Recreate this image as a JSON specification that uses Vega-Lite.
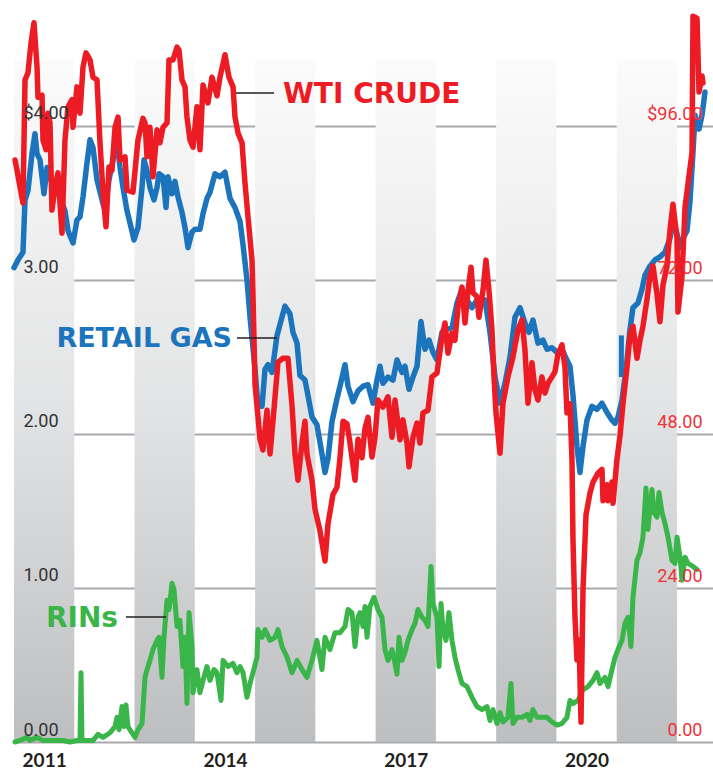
{
  "$schema": "https://vega.github.io/schema/vega-lite/v6.json",
  "width": 699,
  "height": 742,
  "autosize": {"type": "none"},
  "padding": {"left": 14, "top": 0, "right": 0, "bottom": 28},
  "background": "#ffffff",
  "config": {"view": {"stroke": null}},
  "resolve": {"scale": {"y": "independent"}},
  "datasets": {
    "bands": [
      {"start": 2011, "end": 2012}, {"start": 2013, "end": 2014}, {"start": 2015, "end": 2016},
      {"start": 2017, "end": 2018}, {"start": 2019, "end": 2020}, {"start": 2021, "end": 2022}
    ],
    "crude": [
      {"t":2011.017,"v":90.7},{"t":2011.05,"v":89.1},{"t":2011.1,"v":86.5},{"t":2011.149,"v":84.0},{"t":2011.183,"v":103.2},{"t":2011.232,"v":104.3},{"t":2011.282,"v":108.9},{"t":2011.332,"v":112.1},{"t":2011.382,"v":105.2},{"t":2011.398,"v":100.5},{"t":2011.465,"v":100.8},{"t":2011.481,"v":93.8},{"t":2011.531,"v":92.3},{"t":2011.564,"v":98.0},{"t":2011.597,"v":96.5},{"t":2011.63,"v":82.9},{"t":2011.68,"v":86.5},{"t":2011.73,"v":88.7},{"t":2011.796,"v":79.3},{"t":2011.846,"v":93.8},{"t":2011.896,"v":99.0},{"t":2011.962,"v":100.1},{"t":2011.979,"v":95.8},
      {"t":2012.045,"v":102.1},{"t":2012.095,"v":98.0},{"t":2012.145,"v":105.2},{"t":2012.195,"v":107.4},{"t":2012.261,"v":106.3},{"t":2012.311,"v":103.6},{"t":2012.377,"v":103.2},{"t":2012.427,"v":93.4},{"t":2012.477,"v":85.6},{"t":2012.526,"v":80.3},{"t":2012.576,"v":89.6},{"t":2012.626,"v":89.1},{"t":2012.676,"v":95.8},{"t":2012.726,"v":97.4},{"t":2012.759,"v":90.7},{"t":2012.842,"v":91.2},{"t":2012.875,"v":86.0},{"t":2012.974,"v":85.7},
      {"t":2013.057,"v":93.8},{"t":2013.14,"v":97.2},{"t":2013.174,"v":96.5},{"t":2013.207,"v":91.2},{"t":2013.256,"v":95.8},{"t":2013.306,"v":88.1},{"t":2013.373,"v":95.4},{"t":2013.422,"v":93.4},{"t":2013.472,"v":95.8},{"t":2013.539,"v":96.5},{"t":2013.572,"v":106.3},{"t":2013.638,"v":106.3},{"t":2013.705,"v":108.3},{"t":2013.738,"v":107.8},{"t":2013.787,"v":103.2},{"t":2013.837,"v":102.1},{"t":2013.87,"v":97.4},{"t":2013.92,"v":93.8},{"t":2013.97,"v":92.7},
      {"t":2014.036,"v":99.0},{"t":2014.086,"v":92.3},{"t":2014.136,"v":102.4},{"t":2014.219,"v":99.6},{"t":2014.285,"v":103.6},{"t":2014.368,"v":100.7},{"t":2014.418,"v":103.6},{"t":2014.501,"v":107.1},{"t":2014.567,"v":103.6},{"t":2014.634,"v":102.1},{"t":2014.667,"v":97.4},{"t":2014.717,"v":94.9},{"t":2014.783,"v":93.4},{"t":2014.833,"v":87.1},{"t":2014.883,"v":81.8},{"t":2014.949,"v":75.1},{"t":2014.965,"v":69.7},{"t":2014.999,"v":55.8},
      {"t":2015.082,"v":47.2},{"t":2015.131,"v":45.5},{"t":2015.198,"v":51.7},{"t":2015.248,"v":44.9},{"t":2015.297,"v":50.0},{"t":2015.38,"v":59.2},{"t":2015.463,"v":59.8},{"t":2015.546,"v":59.8},{"t":2015.613,"v":52.4},{"t":2015.662,"v":44.9},{"t":2015.712,"v":40.8},{"t":2015.779,"v":46.6},{"t":2015.828,"v":50.0},{"t":2015.861,"v":44.9},{"t":2015.944,"v":40.8},{"t":2015.994,"v":36.3},
      {"t":2016.077,"v":32.9},{"t":2016.16,"v":28.2},{"t":2016.21,"v":34.0},{"t":2016.293,"v":38.6},{"t":2016.359,"v":39.7},{"t":2016.409,"v":44.3},{"t":2016.459,"v":50.0},{"t":2016.525,"v":49.6},{"t":2016.575,"v":46.6},{"t":2016.658,"v":40.8},{"t":2016.708,"v":47.2},{"t":2016.774,"v":44.3},{"t":2016.824,"v":48.9},{"t":2016.874,"v":50.6},{"t":2016.94,"v":44.4},{"t":2016.99,"v":47.5},
      {"t":2017.039,"v":53.3},{"t":2017.122,"v":52.2},{"t":2017.205,"v":53.8},{"t":2017.272,"v":47.5},{"t":2017.322,"v":53.3},{"t":2017.405,"v":47.1},{"t":2017.454,"v":50.2},{"t":2017.521,"v":46.6},{"t":2017.554,"v":42.9},{"t":2017.62,"v":47.5},{"t":2017.687,"v":49.7},{"t":2017.736,"v":46.6},{"t":2017.786,"v":51.3},{"t":2017.869,"v":51.7},{"t":2017.935,"v":56.9},
      {"t":2018.018,"v":57.5},{"t":2018.101,"v":63.1},{"t":2018.151,"v":65.3},{"t":2018.201,"v":60.6},{"t":2018.267,"v":63.7},{"t":2018.317,"v":62.6},{"t":2018.367,"v":67.8},{"t":2018.433,"v":70.9},{"t":2018.483,"v":65.3},{"t":2018.533,"v":70.4},{"t":2018.583,"v":74.0},{"t":2018.616,"v":70.0},{"t":2018.682,"v":69.4},{"t":2018.715,"v":66.2},{"t":2018.782,"v":70.4},{"t":2018.831,"v":75.1},{"t":2018.881,"v":70.4},{"t":2018.931,"v":64.2},{"t":2018.964,"v":56.9},{"t":2018.997,"v":51.3},
      {"t":2019.064,"v":45.0},{"t":2019.113,"v":52.8},{"t":2019.196,"v":56.9},{"t":2019.279,"v":60.0},{"t":2019.362,"v":64.2},{"t":2019.429,"v":65.8},{"t":2019.478,"v":61.1},{"t":2019.528,"v":52.8},{"t":2019.595,"v":59.1},{"t":2019.644,"v":54.9},{"t":2019.694,"v":53.3},{"t":2019.76,"v":56.9},{"t":2019.81,"v":54.4},{"t":2019.86,"v":55.9},{"t":2019.926,"v":56.9},{"t":2019.976,"v":57.7},
      {"t":2020.026,"v":60.5},{"t":2020.092,"v":61.9},{"t":2020.142,"v":58.4},{"t":2020.175,"v":51.3},{"t":2020.225,"v":52.7},{"t":2020.258,"v":44.1},{"t":2020.275,"v":31.5},{"t":2020.308,"v":19.5},{"t":2020.341,"v":12.8},{"t":2020.375,"v":15.9},{"t":2020.408,"v":3.1},{"t":2020.441,"v":23.7},{"t":2020.491,"v":35.4},{"t":2020.557,"v":38.8},{"t":2020.607,"v":40.5},{"t":2020.69,"v":41.9},{"t":2020.756,"v":42.5},{"t":2020.773,"v":37.6},{"t":2020.839,"v":40.1},{"t":2020.856,"v":37.6},{"t":2020.922,"v":40.5},{"t":2020.939,"v":37.2},
      {"t":2021.005,"v":44.1},{"t":2021.055,"v":47.7},{"t":2021.104,"v":52.7},{"t":2021.171,"v":58.4},{"t":2021.221,"v":63.4},{"t":2021.27,"v":64.8},{"t":2021.337,"v":59.8},{"t":2021.387,"v":62.6},{"t":2021.436,"v":64.8},{"t":2021.503,"v":69.0},{"t":2021.552,"v":72.6},{"t":2021.602,"v":74.2},{"t":2021.669,"v":69.8},{"t":2021.718,"v":65.5},{"t":2021.768,"v":71.2},{"t":2021.835,"v":74.2},{"t":2021.884,"v":79.8},{"t":2021.934,"v":83.8},
      {"t":2022.001,"v":78.4},{"t":2022.017,"v":67.0},{"t":2022.084,"v":72.6},{"t":2022.134,"v":83.4},{"t":2022.183,"v":87.0},{"t":2022.25,"v":91.9},{"t":2022.266,"v":113.1},{"t":2022.333,"v":112.8},{"t":2022.366,"v":101.3},{"t":2022.416,"v":103.8},{"t":2022.432,"v":102.7}
    ],
    "gas": [
      {"t":2011.0,"v":3.08},{"t":2011.066,"v":3.13},{"t":2011.149,"v":3.18},{"t":2011.183,"v":3.52},{"t":2011.232,"v":3.58},{"t":2011.299,"v":3.82},{"t":2011.348,"v":3.95},{"t":2011.382,"v":3.82},{"t":2011.431,"v":3.78},{"t":2011.498,"v":3.56},{"t":2011.548,"v":3.73},{"t":2011.63,"v":3.63},{"t":2011.713,"v":3.58},{"t":2011.796,"v":3.5},{"t":2011.846,"v":3.45},{"t":2011.896,"v":3.32},{"t":2011.979,"v":3.24},
      {"t":2012.045,"v":3.39},{"t":2012.095,"v":3.41},{"t":2012.145,"v":3.54},{"t":2012.211,"v":3.76},{"t":2012.261,"v":3.91},{"t":2012.311,"v":3.86},{"t":2012.377,"v":3.65},{"t":2012.46,"v":3.52},{"t":2012.51,"v":3.45},{"t":2012.576,"v":3.65},{"t":2012.643,"v":3.78},{"t":2012.709,"v":3.91},{"t":2012.759,"v":3.73},{"t":2012.809,"v":3.6},{"t":2012.875,"v":3.45},{"t":2012.925,"v":3.37},{"t":2012.991,"v":3.26},
      {"t":2013.057,"v":3.34},{"t":2013.124,"v":3.6},{"t":2013.157,"v":3.78},{"t":2013.207,"v":3.71},{"t":2013.256,"v":3.6},{"t":2013.323,"v":3.52},{"t":2013.373,"v":3.6},{"t":2013.406,"v":3.69},{"t":2013.472,"v":3.67},{"t":2013.522,"v":3.47},{"t":2013.555,"v":3.67},{"t":2013.622,"v":3.56},{"t":2013.671,"v":3.64},{"t":2013.721,"v":3.54},{"t":2013.787,"v":3.44},{"t":2013.837,"v":3.34},{"t":2013.887,"v":3.21},{"t":2013.953,"v":3.31},
      {"t":2014.003,"v":3.33},{"t":2014.086,"v":3.33},{"t":2014.136,"v":3.43},{"t":2014.202,"v":3.53},{"t":2014.252,"v":3.57},{"t":2014.335,"v":3.69},{"t":2014.418,"v":3.67},{"t":2014.501,"v":3.7},{"t":2014.584,"v":3.53},{"t":2014.667,"v":3.47},{"t":2014.75,"v":3.38},{"t":2014.8,"v":3.23},{"t":2014.866,"v":3.0},{"t":2014.916,"v":2.76},{"t":2014.999,"v":2.42},
      {"t":2015.048,"v":2.18},{"t":2015.115,"v":2.18},{"t":2015.165,"v":2.42},{"t":2015.214,"v":2.45},{"t":2015.281,"v":2.4},{"t":2015.364,"v":2.64},{"t":2015.447,"v":2.76},{"t":2015.496,"v":2.83},{"t":2015.579,"v":2.78},{"t":2015.629,"v":2.66},{"t":2015.696,"v":2.59},{"t":2015.745,"v":2.38},{"t":2015.828,"v":2.35},{"t":2015.878,"v":2.25},{"t":2015.944,"v":2.11},
      {"t":2016.027,"v":2.06},{"t":2016.11,"v":1.87},{"t":2016.16,"v":1.75},{"t":2016.21,"v":1.84},{"t":2016.276,"v":2.08},{"t":2016.359,"v":2.23},{"t":2016.409,"v":2.31},{"t":2016.492,"v":2.45},{"t":2016.542,"v":2.31},{"t":2016.625,"v":2.21},{"t":2016.708,"v":2.28},{"t":2016.791,"v":2.31},{"t":2016.874,"v":2.32},{"t":2016.957,"v":2.2},
      {"t":2017.023,"v":2.35},{"t":2017.073,"v":2.44},{"t":2017.122,"v":2.33},{"t":2017.205,"v":2.37},{"t":2017.288,"v":2.35},{"t":2017.355,"v":2.48},{"t":2017.438,"v":2.4},{"t":2017.487,"v":2.44},{"t":2017.554,"v":2.29},{"t":2017.62,"v":2.37},{"t":2017.687,"v":2.44},{"t":2017.753,"v":2.73},{"t":2017.819,"v":2.55},{"t":2017.886,"v":2.61},{"t":2017.952,"v":2.53},
      {"t":2018.018,"v":2.48},{"t":2018.101,"v":2.66},{"t":2018.184,"v":2.68},{"t":2018.267,"v":2.69},{"t":2018.35,"v":2.85},{"t":2018.433,"v":2.94},{"t":2018.516,"v":2.87},{"t":2018.599,"v":2.82},{"t":2018.682,"v":2.87},{"t":2018.765,"v":2.85},{"t":2018.815,"v":2.87},{"t":2018.898,"v":2.66},{"t":2018.981,"v":2.37},
      {"t":2019.064,"v":2.2},{"t":2019.147,"v":2.33},{"t":2019.23,"v":2.5},{"t":2019.313,"v":2.76},{"t":2019.396,"v":2.82},{"t":2019.478,"v":2.72},{"t":2019.545,"v":2.66},{"t":2019.611,"v":2.74},{"t":2019.694,"v":2.59},{"t":2019.777,"v":2.61},{"t":2019.843,"v":2.55},{"t":2019.926,"v":2.56},
      {"t":2020.009,"v":2.53},{"t":2020.092,"v":2.55},{"t":2020.175,"v":2.48},{"t":2020.225,"v":2.44},{"t":2020.275,"v":2.25},{"t":2020.341,"v":1.92},{"t":2020.391,"v":1.75},{"t":2020.441,"v":1.92},{"t":2020.507,"v":2.09},{"t":2020.59,"v":2.18},{"t":2020.673,"v":2.16},{"t":2020.756,"v":2.2},{"t":2020.839,"v":2.14},{"t":2020.922,"v":2.09},{"t":2020.972,"v":2.07},
      {"t":2021.021,"v":2.11},{"t":2021.088,"v":2.22},{"t":2021.138,"v":2.37},{"t":2021.171,"v":2.48},{"t":2021.221,"v":2.68},{"t":2021.27,"v":2.82},{"t":2021.353,"v":2.85},{"t":2021.42,"v":2.94},{"t":2021.469,"v":3.03},{"t":2021.552,"v":3.09},{"t":2021.635,"v":3.13},{"t":2021.718,"v":3.15},{"t":2021.801,"v":3.18},{"t":2021.884,"v":3.27},{"t":2021.934,"v":3.39},
      {"t":2022.001,"v":3.3},{"t":2022.05,"v":3.21},{"t":2022.1,"v":3.27},{"t":2022.167,"v":3.32},{"t":2022.216,"v":3.51},{"t":2022.266,"v":3.83},{"t":2022.3,"v":4.07},{"t":2022.333,"v":4.01},{"t":2022.366,"v":3.98},{"t":2022.416,"v":4.07},{"t":2022.465,"v":4.22}
    ],
    "gasGap": [
      {"t":2021.078,"v":2.64},{"t":2021.078,"v":2.37}
    ],
    "rins": [
      {"t":2011.017,"v":0.0},{"t":2011.1,"v":0.01},{"t":2011.216,"v":0.03},{"t":2011.265,"v":0.01},{"t":2011.382,"v":0.03},{"t":2011.481,"v":0.01},{"t":2011.647,"v":0.01},{"t":2011.813,"v":0.01},{"t":2011.929,"v":0.0},
      {"t":2012.045,"v":0.01},{"t":2012.095,"v":0.01},{"t":2012.112,"v":0.45},{"t":2012.128,"v":0.01},{"t":2012.311,"v":0.01},{"t":2012.394,"v":0.05},{"t":2012.477,"v":0.03},{"t":2012.593,"v":0.06},{"t":2012.676,"v":0.1},{"t":2012.709,"v":0.16},{"t":2012.742,"v":0.08},{"t":2012.792,"v":0.23},{"t":2012.825,"v":0.1},{"t":2012.858,"v":0.24},{"t":2012.891,"v":0.1},{"t":2012.958,"v":0.06},
      {"t":2013.008,"v":0.03},{"t":2013.057,"v":0.08},{"t":2013.124,"v":0.12},{"t":2013.174,"v":0.42},{"t":2013.207,"v":0.47},{"t":2013.256,"v":0.53},{"t":2013.306,"v":0.6},{"t":2013.373,"v":0.66},{"t":2013.406,"v":0.68},{"t":2013.456,"v":0.42},{"t":2013.489,"v":0.68},{"t":2013.539,"v":0.92},{"t":2013.572,"v":0.86},{"t":2013.622,"v":1.03},{"t":2013.655,"v":0.99},{"t":2013.705,"v":0.75},{"t":2013.754,"v":0.79},{"t":2013.804,"v":0.49},{"t":2013.837,"v":0.68},{"t":2013.87,"v":0.25},{"t":2013.904,"v":0.84},{"t":2013.953,"v":0.62},{"t":2013.97,"v":0.32},
      {"t":2014.036,"v":0.47},{"t":2014.086,"v":0.32},{"t":2014.136,"v":0.4},{"t":2014.202,"v":0.49},{"t":2014.252,"v":0.4},{"t":2014.318,"v":0.47},{"t":2014.368,"v":0.45},{"t":2014.435,"v":0.27},{"t":2014.468,"v":0.53},{"t":2014.551,"v":0.49},{"t":2014.634,"v":0.51},{"t":2014.7,"v":0.45},{"t":2014.75,"v":0.49},{"t":2014.8,"v":0.45},{"t":2014.866,"v":0.29},{"t":2014.916,"v":0.38},{"t":2014.965,"v":0.45},
      {"t":2015.032,"v":0.55},{"t":2015.048,"v":0.73},{"t":2015.115,"v":0.68},{"t":2015.165,"v":0.73},{"t":2015.248,"v":0.66},{"t":2015.331,"v":0.68},{"t":2015.38,"v":0.73},{"t":2015.447,"v":0.62},{"t":2015.53,"v":0.55},{"t":2015.613,"v":0.45},{"t":2015.696,"v":0.53},{"t":2015.779,"v":0.47},{"t":2015.861,"v":0.42},{"t":2015.944,"v":0.53},
      {"t":2016.027,"v":0.66},{"t":2016.11,"v":0.47},{"t":2016.16,"v":0.68},{"t":2016.243,"v":0.6},{"t":2016.326,"v":0.71},{"t":2016.409,"v":0.71},{"t":2016.492,"v":0.75},{"t":2016.542,"v":0.86},{"t":2016.608,"v":0.84},{"t":2016.658,"v":0.62},{"t":2016.708,"v":0.81},{"t":2016.741,"v":0.84},{"t":2016.791,"v":0.75},{"t":2016.824,"v":0.88},{"t":2016.857,"v":0.68},{"t":2016.907,"v":0.88},{"t":2016.973,"v":0.94},
      {"t":2017.039,"v":0.86},{"t":2017.106,"v":0.81},{"t":2017.156,"v":0.6},{"t":2017.205,"v":0.53},{"t":2017.272,"v":0.6},{"t":2017.322,"v":0.51},{"t":2017.355,"v":0.44},{"t":2017.388,"v":0.68},{"t":2017.438,"v":0.53},{"t":2017.487,"v":0.58},{"t":2017.537,"v":0.66},{"t":2017.604,"v":0.73},{"t":2017.653,"v":0.77},{"t":2017.703,"v":0.86},{"t":2017.77,"v":0.81},{"t":2017.819,"v":0.79},{"t":2017.869,"v":0.75},{"t":2017.919,"v":1.14},{"t":2017.952,"v":0.9},
      {"t":2018.018,"v":0.81},{"t":2018.052,"v":0.49},{"t":2018.085,"v":0.9},{"t":2018.118,"v":0.73},{"t":2018.168,"v":0.66},{"t":2018.217,"v":0.84},{"t":2018.267,"v":0.66},{"t":2018.317,"v":0.55},{"t":2018.367,"v":0.47},{"t":2018.433,"v":0.38},{"t":2018.516,"v":0.36},{"t":2018.599,"v":0.29},{"t":2018.682,"v":0.23},{"t":2018.765,"v":0.21},{"t":2018.848,"v":0.23},{"t":2018.898,"v":0.14},{"t":2018.948,"v":0.21},
      {"t":2019.014,"v":0.12},{"t":2019.064,"v":0.19},{"t":2019.113,"v":0.13},{"t":2019.196,"v":0.16},{"t":2019.246,"v":0.38},{"t":2019.279,"v":0.12},{"t":2019.346,"v":0.16},{"t":2019.429,"v":0.16},{"t":2019.512,"v":0.18},{"t":2019.561,"v":0.14},{"t":2019.611,"v":0.21},{"t":2019.678,"v":0.16},{"t":2019.76,"v":0.16},{"t":2019.843,"v":0.16},{"t":2019.926,"v":0.13},
      {"t":2020.009,"v":0.11},{"t":2020.092,"v":0.12},{"t":2020.175,"v":0.16},{"t":2020.225,"v":0.27},{"t":2020.275,"v":0.25},{"t":2020.358,"v":0.27},{"t":2020.441,"v":0.34},{"t":2020.524,"v":0.36},{"t":2020.607,"v":0.4},{"t":2020.673,"v":0.45},{"t":2020.723,"v":0.38},{"t":2020.806,"v":0.42},{"t":2020.856,"v":0.36},{"t":2020.922,"v":0.47},{"t":2020.972,"v":0.55},
      {"t":2021.021,"v":0.6},{"t":2021.088,"v":0.66},{"t":2021.138,"v":0.77},{"t":2021.187,"v":0.81},{"t":2021.237,"v":0.62},{"t":2021.27,"v":0.94},{"t":2021.337,"v":1.18},{"t":2021.387,"v":1.23},{"t":2021.436,"v":1.33},{"t":2021.486,"v":1.65},{"t":2021.519,"v":1.38},{"t":2021.586,"v":1.64},{"t":2021.619,"v":1.49},{"t":2021.669,"v":1.46},{"t":2021.702,"v":1.62},{"t":2021.752,"v":1.49},{"t":2021.801,"v":1.42},{"t":2021.851,"v":1.33},{"t":2021.918,"v":1.18},{"t":2021.967,"v":1.16},
      {"t":2022.001,"v":1.33},{"t":2022.05,"v":1.2},{"t":2022.084,"v":1.05},{"t":2022.134,"v":1.2},{"t":2022.183,"v":1.16},{"t":2022.266,"v":1.14},{"t":2022.333,"v":1.12}
    ],
    "leaders": [
      {"x1": 2014.683, "x2": 2015.314, "v": 4.214},
      {"x1": 2014.700, "x2": 2015.364, "v": 2.623},
      {"x1": 2012.858, "x2": 2013.522, "v": 0.812}
    ]
  },
  "layer": [
    {
      "data": {"name": "bands"},
      "mark": {"type": "rect", "fill": {"gradient": "linear", "x1": 0, "y1": 0, "x2": 0, "y2": 1, "stops": [{"offset": 0, "color": "#fbfbfb"}, {"offset": 0.5, "color": "#e3e4e5"}, {"offset": 1, "color": "#bdbec0"}]}},
      "encoding": {
        "x": {"field": "start", "type": "quantitative", "scale": {"domain": [2011, 2022.598], "nice": false, "zero": false},
              "axis": {"values": [2011.5, 2014.5, 2017.5, 2020.5], "labelExpr": "floor(datum.value)", "title": null, "grid": false, "ticks": false, "tickSize": 0, "domain": false, "labelFont": "Lato", "labelFontWeight": "bold", "labelFontSize": 19, "labelColor": "#231f20", "labelPadding": 9}},
        "x2": {"field": "end"},
        "y": {"datum": 4.43, "type": "quantitative", "scale": {"domain": [0, 4.818], "nice": false, "zero": true},
              "axis": {"orient": "left", "values": [0, 1, 2, 3, 4], "grid": true, "gridColor": "#a7a9ac", "gridWidth": 2, "labels": false, "ticks": false, "tickSize": 0, "domain": false, "title": null}},
        "y2": {"datum": 0}
      }
    },
    {
      "data": {"name": "rins"},
      "mark": {"type": "line", "color": "#3ab54a", "strokeWidth": 5, "strokeJoin": "round", "strokeCap": "round"},
      "encoding": {
        "x": {"field": "t", "type": "quantitative"},
        "y": {"field": "v", "type": "quantitative", "scale": {"domain": [0, 4.818], "nice": false},
              "axis": {"orient": "left", "values": [0, 1, 2, 3, 4], "grid": false, "ticks": false, "tickSize": 0, "domain": false, "title": null, "labelAlign": "left", "labelBaseline": "alphabetic", "labelPadding": -9, "labelOffset": -7, "labelFont": "Roboto", "labelFontSize": 18, "labelColor": "#333333", "labelExpr": "datum.value == 4 ? '$4.00' : format(datum.value, '.2f')", "zindex": 1}}
      }
    },
    {
      "data": {"name": "gas"},
      "mark": {"type": "line", "color": "#1c75bc", "strokeWidth": 5.5, "strokeJoin": "round", "strokeCap": "round"},
      "encoding": {
        "x": {"field": "t", "type": "quantitative"},
        "y": {"field": "v", "type": "quantitative", "scale": {"domain": [0, 4.818], "nice": false}, "axis": null}
      }
    },
    {
      "data": {"name": "gasGap"},
      "mark": {"type": "line", "color": "#1c75bc", "strokeWidth": 5, "strokeCap": "butt"},
      "encoding": {
        "x": {"field": "t", "type": "quantitative"},
        "y": {"field": "v", "type": "quantitative", "scale": {"domain": [0, 4.818], "nice": false}, "axis": null}
      }
    },
    {
      "data": {"name": "crude"},
      "mark": {"type": "line", "color": "#ed1c24", "strokeWidth": 5.5, "strokeJoin": "round", "strokeCap": "round"},
      "encoding": {
        "x": {"field": "t", "type": "quantitative"},
        "y": {"field": "v", "type": "quantitative", "scale": {"domain": [0, 115.64], "nice": false},
              "axis": {"orient": "right", "values": [0, 24, 48, 72, 96], "grid": false, "ticks": false, "tickSize": 0, "domain": false, "title": null, "labelAlign": "right", "labelBaseline": "alphabetic", "labelPadding": -11, "labelOffset": -7, "labelFont": "Roboto", "labelFontSize": 18, "labelColor": "#ee3239", "labelExpr": "datum.value == 96 ? '$96.00' : format(datum.value, '.2f')", "zindex": 1}}
      }
    },
    {
      "data": {"name": "leaders"},
      "mark": {"type": "rule", "color": "#231f20", "strokeWidth": 1.5},
      "encoding": {
        "x": {"field": "x1", "type": "quantitative"},
        "x2": {"field": "x2"},
        "y": {"field": "v", "type": "quantitative", "scale": {"domain": [0, 4.818], "nice": false}, "axis": null}
      }
    },
    {
      "data": {"values": [{"t": 2015.463, "v": 4.149, "label": "WTI CRUDE"}]},
      "mark": {"type": "text", "align": "left", "baseline": "alphabetic", "font": "DejaVu Sans", "fontWeight": "bold", "fontSize": 28, "color": "#ed1c24"},
      "encoding": {
        "x": {"field": "t", "type": "quantitative"},
        "y": {"field": "v", "type": "quantitative", "scale": {"domain": [0, 4.818], "nice": false}, "axis": null},
        "text": {"field": "label"}
      }
    },
    {
      "data": {"values": [{"t": 2014.617, "v": 2.565, "label": "RETAIL GAS"}]},
      "mark": {"type": "text", "align": "right", "baseline": "alphabetic", "font": "DejaVu Sans", "fontWeight": "bold", "fontSize": 27, "color": "#1c75bc"},
      "encoding": {
        "x": {"field": "t", "type": "quantitative"},
        "y": {"field": "v", "type": "quantitative", "scale": {"domain": [0, 4.818], "nice": false}, "axis": null},
        "text": {"field": "label"}
      }
    },
    {
      "data": {"values": [{"t": 2012.726, "v": 0.747, "label": "RINs"}]},
      "mark": {"type": "text", "align": "right", "baseline": "alphabetic", "font": "DejaVu Sans", "fontWeight": "bold", "fontSize": 28, "color": "#3ab54a"},
      "encoding": {
        "x": {"field": "t", "type": "quantitative"},
        "y": {"field": "v", "type": "quantitative", "scale": {"domain": [0, 4.818], "nice": false}, "axis": null},
        "text": {"field": "label"}
      }
    }
  ]
}
